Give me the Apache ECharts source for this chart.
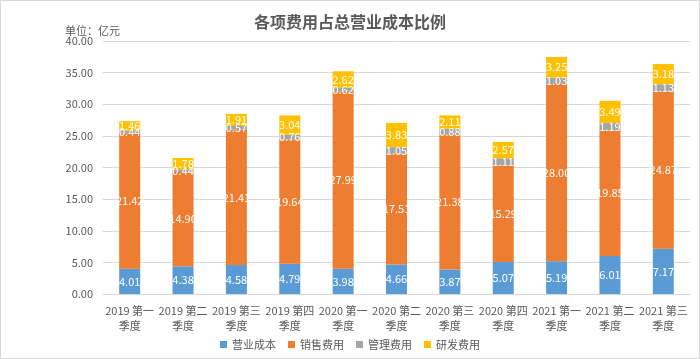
<!DOCTYPE html>
<html><head><meta charset="utf-8">
<script src="https://cdn.jsdelivr.net/npm/echarts@6/dist/echarts.min.js"></script>
<style>html,body{margin:0;padding:0;background:#fff}#c{width:698px;height:357px;border:1px solid #d9d9d9}</style>
</head><body><div id="c"></div>
<script>
const categories = ['2019 第一\n季度','2019 第二\n季度','2019 第三\n季度','2019 第四\n季度','2020 第一\n季度','2020 第二\n季度','2020 第三\n季度','2020 第四\n季度','2021 第一\n季度','2021 第二\n季度','2021 第三\n季度'];
const yingye = [4.01,4.38,4.58,4.79,3.98,4.66,3.87,5.07,5.19,6.01,7.17];
const xiaoshou = [21.42,14.90,21.41,19.64,27.99,17.51,21.38,15.29,28.00,19.85,24.87];
const guanli = [0.44,0.44,0.57,0.76,0.62,1.05,0.88,1.11,1.03,1.19,1.13];
const yanfa = [1.46,1.78,1.91,3.04,2.62,3.83,2.11,2.57,3.25,3.49,3.18];
const names = ['营业成本','销售费用','管理费用','研发费用'];
const colors = ['#5B9BD5','#ED7D31','#A5A5A5','#FFC000'];
const font = '"Microsoft YaHei","Noto Sans CJK SC",sans-serif';
const chart = echarts.init(document.getElementById('c'));
function s(name, data, color){
  return {name, type:'bar', stack:'a', data, barWidth:21, itemStyle:{color},
    label:{show:true, position:'inside', color:'#fff', fontSize:11, fontFamily:font, formatter:p=>p.value.toFixed(2)}};
}
chart.setOption({
  animation:false,
  color:colors,
  title:[{text:'各项费用占总营业成本比例', left:'center', top:8, textStyle:{fontSize:16, fontWeight:'bold', color:'#595959', fontFamily:font}},
         {text:'单位：亿元', left:59, top:19, textStyle:{fontSize:11, fontWeight:'normal', color:'#595959', fontFamily:font}}],
  legend:{top:333, left:'center', itemWidth:7, itemHeight:7, itemGap:12, icon:'rect', textStyle:{fontSize:11, color:'#595959', fontFamily:font}},
  grid:{left:102, right:9, top:40, bottom:64},
  xAxis:{type:'category', data:categories, axisTick:{show:false}, axisLine:{lineStyle:{color:'#d9d9d9'}},
    axisLabel:{color:'#595959', fontSize:11, fontFamily:font, interval:0, lineHeight:15, margin:9}},
  yAxis:{type:'value', min:0, max:40, interval:5, axisLabel:{color:'#595959', fontSize:11, fontFamily:font, formatter:v=>v.toFixed(2), margin:10},
    splitLine:{lineStyle:{color:'#d9d9d9'}}},
  series:[s(names[0],yingye,colors[0]), s(names[1],xiaoshou,colors[1]), s(names[2],guanli,colors[2]), s(names[3],yanfa,colors[3])]
});
</script></body></html>
